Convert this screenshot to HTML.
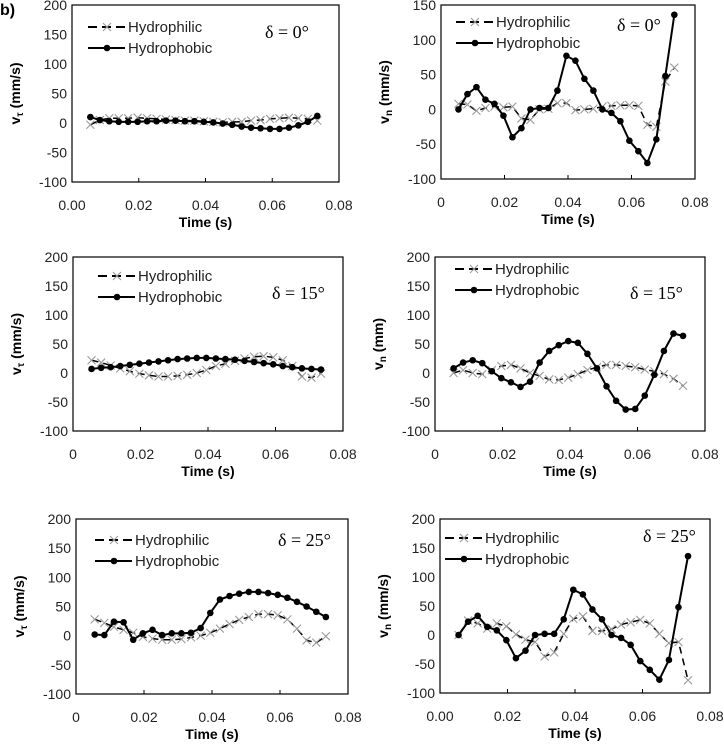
<!DOCTYPE html>
<html><head><meta charset="utf-8"><style>
body{margin:0;background:#fff}
svg{display:block;font-family:"Liberation Sans",sans-serif}
</style></head><body>
<svg id="c" width="724" height="744">
<text x="0" y="15" font-size="16" font-weight="bold">b)</text>
</svg>
<script>
const times = Array.from({length:25},(_,i)=>0.0055+i*0.002833);
const p1Phil = [-3,5,8,8,8,9,8,7,6,5,4,4,3,2,1,2,2,4,5,7,8,9,8,7,4];
const p1Phob = [10,5,3,2,2,2,3,3,4,4,3,3,2,1,-1,-3,-6,-8,-9,-10,-10,-8,-4,2,12];
const p2Phil = [8,7,-2,2,4,3,4,-13,-15,0,1,9,9,-1,0,1,4,5,6,6,5,-22,-25,40,60];
const p2Phob = [0,22,32,14,8,-9,-40,-27,0,2,2,27,77,70,44,27,0,-5,-17,-45,-60,-77,-43,48,136];
const p3Phil = [22,18,13,8,3,-1,-4,-6,-6,-5,-3,0,5,12,16,21,25,28,29,27,22,12,-6,-8,-1];
const p3Phob = [7,9,10,12,14,16,18,20,22,24,25,26,26,25,24,23,21,19,17,15,12,10,8,7,6];
const p4Phil = [0,5,0,-2,5,12,14,8,0,-5,-11,-12,-8,-2,5,10,14,14,12,10,6,3,-2,-10,-22];
const p4Phob = [8,18,22,17,3,-9,-16,-24,-15,18,38,48,55,52,33,8,-23,-48,-63,-62,-39,-3,38,68,64];
const p5Phil = [28,22,15,10,5,-2,-5,-7,-7,-6,-3,0,5,12,20,27,32,37,37,35,28,12,-8,-12,-1];
const p5Phob = [2,1,24,23,-7,4,10,1,4,4,5,13,39,62,68,72,75,75,73,70,65,58,50,41,32];
const p6Phil = [0,25,20,11,20,15,1,-8,-12,-37,-30,2,28,32,7,7,10,18,22,26,20,2,-14,-12,-78];
const p6Phob = [0,23,33,14,8,-9,-40,-27,0,2,2,27,78,70,44,27,0,-5,-17,-45,-60,-77,-43,48,136];
const xTicks = [0,0.02,0.04,0.06,0.08];
const yTicks200 = [-100,-50,0,50,100,150,200];
const yTicks150 = [-100,-50,0,50,100,150];

const NS="http://www.w3.org/2000/svg";
const svg=document.getElementById('c');
function mk(tag,attrs,parent){const e=document.createElementNS(NS,tag);for(const k in attrs)e.setAttribute(k,attrs[k]);(parent||svg).appendChild(e);return e;}

function panel(id,o,phil,phob){
  const g=mk('g',{});
  
  
  const ymin=-100,ymax=o.ymax;
  const X=v=>o.L+(v-0)/(0.08)*(o.R-o.L);
  const Y=v=>o.B-(v-ymin)/(ymax-ymin)*(o.B-o.T);
  const fr=mk('rect',{x:o.L,y:o.T,width:o.R-o.L,height:o.B-o.T,fill:'none',stroke:'#000','stroke-width':1.2},g);
  
  
  o.yt.forEach(t=>{
    const tx=mk('text',{x:o.L-5,y:Y(t)+5,'text-anchor':'end','font-size':14,fill:'#222'},g);tx.textContent=t;
    
    
  });
  xTicks.forEach(t=>{
    mk('line',{x1:X(t),x2:X(t),y1:o.B,y2:o.B-4,stroke:'#000'},g);
    const tx=mk('text',{x:X(t),y:o.B+28,'text-anchor':'middle','font-size':14,fill:'#222'},g);
    tx.textContent=o.fmt?t.toFixed(2):(t===0?'0':String(t));
    
    
  });
  const xt=mk('text',{x:(o.L+o.R)/2,y:o.B+45,'text-anchor':'middle','font-size':14,'font-weight':'bold'},g);
  xt.textContent='Time (s)';
  
  
  const yc=(o.T+o.B)/2;
  const yl=mk('text',{x:0,y:0,transform:`translate(${o.L-52},${yc}) rotate(-90)`,'text-anchor':'middle','font-size':14,'font-weight':'bold'},g);
  yl.innerHTML=`v<tspan font-size="10" dy="3">${o.sub}</tspan><tspan dy="-3"> ${o.unit}</tspan>`;
  
  
  const pPhil=times.map((t,i)=>X(t)+','+Y(phil[i])).join(' ');
  const l1=mk('polyline',{points:pPhil,fill:'none',stroke:'#000','stroke-width':1.5,'stroke-dasharray':'7,5'},g);
  
  
  times.forEach((t,i)=>{
    const x=X(t),y=Y(phil[i]);
    const m=mk('path',{d:`M${x-4},${y-4}L${x+4},${y+4}M${x-4},${y+4}L${x+4},${y-4}`,stroke:'#999','stroke-width':1.1},g);
    
    
  });
  const pPhob=times.map((t,i)=>X(t)+','+Y(phob[i])).join(' ');
  const l2=mk('polyline',{points:pPhob,fill:'none',stroke:'#000','stroke-width':2},g);
  
  
  times.forEach((t,i)=>{
    const c=mk('circle',{cx:X(t),cy:Y(phob[i]),r:3.3,fill:'#000'},g);
    
    
  });
  const lx=o.lg[0],ly=o.lg[1];
  const lgg=mk('g',{},g);
  
  
  mk('line',{x1:lx,x2:lx+37,y1:ly,y2:ly,stroke:'#000','stroke-width':2,'stroke-dasharray':'9,5'},lgg);
  mk('path',{d:`M${lx+15},${ly-4}L${lx+23},${ly+4}M${lx+15},${ly+4}L${lx+23},${ly-4}`,stroke:'#999','stroke-width':1.1},lgg);
  const t1=mk('text',{x:lx+40,y:ly+5,'font-size':15,fill:'#222'},lgg);t1.textContent='Hydrophilic';
  
  
  mk('line',{x1:lx,x2:lx+37,y1:ly+21,y2:ly+21,stroke:'#000','stroke-width':2},lgg);
  mk('circle',{cx:lx+19,cy:ly+21,r:3.3,fill:'#000'},lgg);
  const t2=mk('text',{x:lx+40,y:ly+26,'font-size':15,fill:'#222'},lgg);t2.textContent='Hydrophobic';
  
  
  const d=mk('text',{x:o.dl[0],y:o.dl[1],'font-size':18,'font-family':'"Liberation Serif",serif'},g);
  d.textContent=o.delta;
  
  
}
panel('panel-tangential-0',{L:72,R:339,T:5,B:182,ymax:200,yt:yTicks200,fmt:true,sub:'τ',unit:'(mm/s)',lg:[88,27],dl:[265,38],delta:'δ = 0°'},p1Phil,p1Phob);
panel('panel-normal-0',{L:441,R:695,T:5,B:179,ymax:150,yt:yTicks150,fmt:false,sub:'n',unit:'(mm/s)',lg:[456,22],dl:[617,31],delta:'δ = 0°'},p2Phil,p2Phob);
panel('panel-tangential-15',{L:73,R:343,T:257,B:431,ymax:200,yt:yTicks200,fmt:false,sub:'τ',unit:'(mm/s)',lg:[98,276],dl:[272,299],delta:'δ = 15°'},p3Phil,p3Phob);
panel('panel-normal-15',{L:435,R:705,T:257,B:431,ymax:200,yt:yTicks200,fmt:false,sub:'n',unit:'(mm)',lg:[455,269],dl:[630,299],delta:'δ = 15°'},p4Phil,p4Phob);
panel('panel-tangential-25',{L:76,R:348,T:519,B:694,ymax:200,yt:yTicks200,fmt:false,sub:'τ',unit:'(mm/s)',lg:[95,540],dl:[278,546],delta:'δ = 25°'},p5Phil,p5Phob);
panel('panel-normal-25',{L:440,R:710,T:519,B:693,ymax:200,yt:yTicks200,fmt:true,sub:'n',unit:'(mm/s)',lg:[445,538],dl:[643,542],delta:'δ = 25°'},p6Phil,p6Phob);
</script>
</body></html>
